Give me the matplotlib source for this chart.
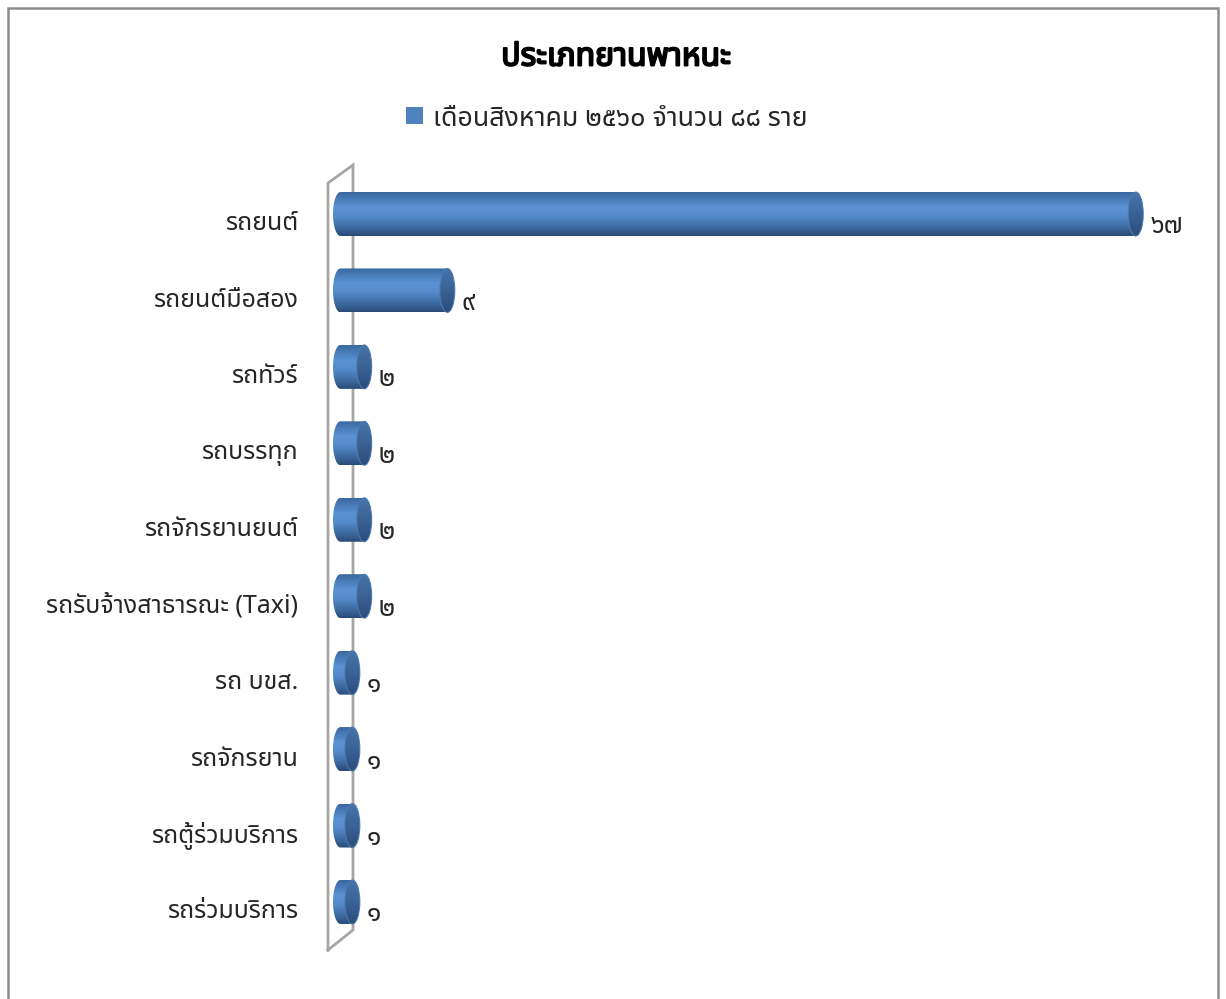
import matplotlib
matplotlib.use("Agg")
import numpy as np
import matplotlib.pyplot as plt
from matplotlib.patches import Ellipse, Rectangle, PathPatch
from matplotlib.path import Path
from matplotlib.colors import LinearSegmentedColormap
import matplotlib.patheffects as pe

plt.rcParams['font.family'] = ['Noto Sans Thai', 'DejaVu Sans']

# ---- data -------------------------------------------------------------
categories = [
    "รถยนต์",
    "รถยนต์มือสอง",
    "รถทัวร์",
    "รถบรรทุก",
    "รถจักรยานยนต์",
    "รถรับจ้างสาธารณะ (Taxi)",
    "รถ บขส.",
    "รถจักรยาน",
    "รถตู้ร่วมบริการ",
    "รถร่วมบริการ",
]
values = [67, 9, 2, 2, 2, 2, 1, 1, 1, 1]
value_labels = ["๖๗", "๙", "๒", "๒", "๒", "๒", "๑", "๑", "๑", "๑"]
title = "ประเภทยานพาหนะ"
series_name = "เดือนสิงหาคม ๒๕๖๐ จำนวน ๘๘ ราย"

# ---- figure -----------------------------------------------------------
W, H = 1226, 999
fig = plt.figure(figsize=(W / 100, H / 100), dpi=100)

# outer chart border (continues below the lower edge of the image)
fig.add_artist(Rectangle((8 / W, -20 / H), 1210 / W, (991 + 20) / H, transform=fig.transFigure,
                         fill=False, edgecolor="#8C8C8C", linewidth=1.8))

# plotting region in pixels
ax_l, ax_r, ax_t, ax_b = 300, 1210, 150, 965
ax = fig.add_axes([ax_l / W, 1 - ax_b / H, (ax_r - ax_l) / W, (ax_b - ax_t) / H])
ax.set_axis_off()

px_per_unit = 11.87         # horizontal scale
zero_px = 340.5             # pixel position of value 0
row_px = 76.44              # vertical spacing of categories
first_row_px = 214.0
ax.set_xlim((ax_l - zero_px) / px_per_unit, (ax_r - zero_px) / px_per_unit)
ax.set_ylim((ax_b - first_row_px) / row_px, (ax_t - first_row_px) / row_px)

bar_h = 44 / row_px          # cylinder diameter in category units
cap_w = 15 / px_per_unit     # apparent width of the elliptical ends

# back wall outline
wall_col = "#A6A6A6"
x_front = (328 - zero_px) / px_per_unit
x_back = (353 - zero_px) / px_per_unit
y_top_front = (183 - first_row_px) / row_px
y_top_back = (165 - first_row_px) / row_px
y_bot_front = (950 - first_row_px) / row_px
y_bot_back = (930 - first_row_px) / row_px
ax.plot([x_front, x_front, x_back, x_back, x_front],
        [y_bot_front, y_top_front, y_top_back, y_bot_back, y_bot_front],
        color=wall_col, linewidth=2.0, zorder=1, solid_joinstyle="miter")

# vertical shading of a horizontal cylinder
body_shade = LinearSegmentedColormap.from_list(
    "cyl", [(0.0, "#3A67A0"), (0.35, "#5A93D5"), (0.55, "#548BCC"),
            (0.85, "#3A6398"), (1.0, "#2A4A76")])
cap_shade = LinearSegmentedColormap.from_list(
    "cap", [(0.0, "#4774AC"), (0.4, "#3D6698"), (1.0, "#2C4D7C")])
grad = np.linspace(0, 1, 256).reshape(-1, 1)

t = np.linspace(np.pi / 2, 3 * np.pi / 2, 60)
for i, v in enumerate(values):
    top, bot = i - bar_h / 2, i + bar_h / 2
    # body outline: left half-ellipse plus straight run to the value
    ex = cap_w / 2 * np.cos(t)
    verts = [(v, top), (0, top)] + [(x, i - bar_h / 2 * np.sin(a)) for x, a in zip(ex, t)] \
        + [(0, bot), (v, bot), (v, top)]
    clip = PathPatch(Path(verts, closed=True), transform=ax.transData,
                     facecolor="none", edgecolor="none")
    ax.add_patch(clip)
    img = ax.imshow(grad, cmap=body_shade, aspect="auto", interpolation="bicubic",
                    extent=[-cap_w / 2, v, bot, top], zorder=2)
    img.set_clip_path(clip)
    # right end cap
    cap = Ellipse((v, i), cap_w, bar_h, facecolor="none", edgecolor="none")
    ax.add_patch(cap)
    cimg = ax.imshow(grad, cmap=cap_shade, aspect="auto", interpolation="bicubic",
                     extent=[v - cap_w / 2, v + cap_w / 2, bot, top], zorder=3)
    cimg.set_clip_path(cap)
    ax.add_patch(Ellipse((v, i), cap_w, bar_h, facecolor="none",
                         edgecolor="#4C7BB3", linewidth=0.7, zorder=3.5))
    # value label
    ax.annotate(value_labels[i], xy=(v + cap_w / 2, i), xytext=(5, -9),
                textcoords="offset points", ha="left", va="center",
                fontsize=19, color="#262626", zorder=4)

# category labels
for i, name in enumerate(categories):
    fig.text(298 / W, 1 - (first_row_px + i * row_px + 10) / H, name,
             ha="right", va="center", fontsize=18, color="#262626")

# title and legend
fig.text(616 / W, 1 - 57 / H, title, ha="center", va="center",
         fontsize=23, fontweight="bold", color="#000000",
         path_effects=[pe.withStroke(linewidth=1.4, foreground="#000000")])
fig.add_artist(Rectangle((406 / W, 1 - 124 / H), 17 / W, 17 / H, transform=fig.transFigure,
                         facecolor="#4F81BD", edgecolor="none"))
fig.text(433 / W, 1 - 119 / H, series_name, ha="left", va="center",
         fontsize=19.3, color="#262626")

fig.savefig("out.png", dpi=100)
